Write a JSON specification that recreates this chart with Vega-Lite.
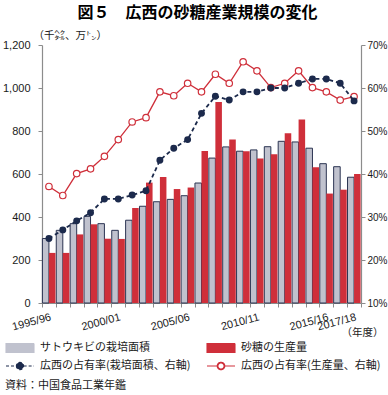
{
  "$schema": "https://vega.github.io/schema/vega-lite/v6.json",
  "width": 319,
  "height": 258,
  "autosize": {"type": "none"},
  "padding": {"left": 42, "top": 45, "right": 27, "bottom": 92},
  "background": "white",
  "config": {
    "view": {"stroke": null},
    "axis": {
      "grid": false,
      "domainColor": "#8c8c8c",
      "domainWidth": 1.2,
      "tickColor": "#8c8c8c",
      "labelColor": "#1a1a1a",
      "labelFont": "Liberation Sans",
      "labelFontSize": 11,
      "titleColor": "#1a1a1a",
      "titleFont": "Noto Sans CJK JP",
      "titleFontWeight": "normal",
      "titleFontSize": 10.5
    }
  },
  "title": {
    "text": "図５　広西の砂糖産業規模の変化",
    "font": "Noto Sans CJK JP",
    "fontSize": 16,
    "fontWeight": "bold",
    "color": "#000000",
    "anchor": "middle",
    "offset": 9,
    "dx": -4
  },
  "datasets": {
    "amount": [
      {"year": "1995/96", "series": "サトウキビの栽培面積", "value": 300},
      {"year": "1995/96", "series": "砂糖の生産量", "value": 233},
      {"year": "1996/97", "series": "サトウキビの栽培面積", "value": 338},
      {"year": "1996/97", "series": "砂糖の生産量", "value": 233},
      {"year": "1997/98", "series": "サトウキビの栽培面積", "value": 369},
      {"year": "1997/98", "series": "砂糖の生産量", "value": 319},
      {"year": "1998/99", "series": "サトウキビの栽培面積", "value": 403},
      {"year": "1998/99", "series": "砂糖の生産量", "value": 366},
      {"year": "1999/00", "series": "サトウキビの栽培面積", "value": 369},
      {"year": "1999/00", "series": "砂糖の生産量", "value": 299},
      {"year": "2000/01", "series": "サトウキビの栽培面積", "value": 338},
      {"year": "2000/01", "series": "砂糖の生産量", "value": 298},
      {"year": "2001/02", "series": "サトウキビの栽培面積", "value": 385},
      {"year": "2001/02", "series": "砂糖の生産量", "value": 442},
      {"year": "2002/03", "series": "サトウキビの栽培面積", "value": 450},
      {"year": "2002/03", "series": "砂糖の生産量", "value": 560},
      {"year": "2003/04", "series": "サトウキビの栽培面積", "value": 471},
      {"year": "2003/04", "series": "砂糖の生産量", "value": 586},
      {"year": "2004/05", "series": "サトウキビの栽培面積", "value": 482},
      {"year": "2004/05", "series": "砂糖の生産量", "value": 530},
      {"year": "2005/06", "series": "サトウキビの栽培面積", "value": 499},
      {"year": "2005/06", "series": "砂糖の生産量", "value": 537},
      {"year": "2006/07", "series": "サトウキビの栽培面積", "value": 558},
      {"year": "2006/07", "series": "砂糖の生産量", "value": 707},
      {"year": "2007/08", "series": "サトウキビの栽培面積", "value": 674},
      {"year": "2007/08", "series": "砂糖の生産量", "value": 935},
      {"year": "2008/09", "series": "サトウキビの栽培面積", "value": 726},
      {"year": "2008/09", "series": "砂糖の生産量", "value": 760},
      {"year": "2009/10", "series": "サトウキビの栽培面積", "value": 706},
      {"year": "2009/10", "series": "砂糖の生産量", "value": 706},
      {"year": "2010/11", "series": "サトウキビの栽培面積", "value": 712},
      {"year": "2010/11", "series": "砂糖の生産量", "value": 672},
      {"year": "2011/12", "series": "サトウキビの栽培面積", "value": 727},
      {"year": "2011/12", "series": "砂糖の生産量", "value": 692},
      {"year": "2012/13", "series": "サトウキビの栽培面積", "value": 752},
      {"year": "2012/13", "series": "砂糖の生産量", "value": 789},
      {"year": "2013/14", "series": "サトウキビの栽培面積", "value": 749},
      {"year": "2013/14", "series": "砂糖の生産量", "value": 853},
      {"year": "2014/15", "series": "サトウキビの栽培面積", "value": 720},
      {"year": "2014/15", "series": "砂糖の生産量", "value": 631},
      {"year": "2015/16", "series": "サトウキビの栽培面積", "value": 648},
      {"year": "2015/16", "series": "砂糖の生産量", "value": 509},
      {"year": "2016/17", "series": "サトウキビの栽培面積", "value": 634},
      {"year": "2016/17", "series": "砂糖の生産量", "value": 527},
      {"year": "2017/18", "series": "サトウキビの栽培面積", "value": 585},
      {"year": "2017/18", "series": "砂糖の生産量", "value": 600}
    ],
    "share": [
      {"year": "1995/96", "series": "広西の占有率(栽培面積、右軸)", "value": 25.0},
      {"year": "1995/96", "series": "広西の占有率(生産量、右軸)", "value": 37.1},
      {"year": "1996/97", "series": "広西の占有率(栽培面積、右軸)", "value": 27.0},
      {"year": "1996/97", "series": "広西の占有率(生産量、右軸)", "value": 35.0},
      {"year": "1997/98", "series": "広西の占有率(栽培面積、右軸)", "value": 29.1},
      {"year": "1997/98", "series": "広西の占有率(生産量、右軸)", "value": 40.1},
      {"year": "1998/99", "series": "広西の占有率(栽培面積、右軸)", "value": 31.0},
      {"year": "1998/99", "series": "広西の占有率(生産量、右軸)", "value": 41.2},
      {"year": "1999/00", "series": "広西の占有率(栽培面積、右軸)", "value": 34.2},
      {"year": "1999/00", "series": "広西の占有率(生産量、右軸)", "value": 44.1},
      {"year": "2000/01", "series": "広西の占有率(栽培面積、右軸)", "value": 34.2},
      {"year": "2000/01", "series": "広西の占有率(生産量、右軸)", "value": 48.0},
      {"year": "2001/02", "series": "広西の占有率(栽培面積、右軸)", "value": 35.1},
      {"year": "2001/02", "series": "広西の占有率(生産量、右軸)", "value": 52.1},
      {"year": "2002/03", "series": "広西の占有率(栽培面積、右軸)", "value": 36.1},
      {"year": "2002/03", "series": "広西の占有率(生産量、右軸)", "value": 53.1},
      {"year": "2003/04", "series": "広西の占有率(栽培面積、右軸)", "value": 43.2},
      {"year": "2003/04", "series": "広西の占有率(生産量、右軸)", "value": 59.1},
      {"year": "2004/05", "series": "広西の占有率(栽培面積、右軸)", "value": 46.0},
      {"year": "2004/05", "series": "広西の占有率(生産量、右軸)", "value": 58.2},
      {"year": "2005/06", "series": "広西の占有率(栽培面積、右軸)", "value": 48.0},
      {"year": "2005/06", "series": "広西の占有率(生産量、右軸)", "value": 61.1},
      {"year": "2006/07", "series": "広西の占有率(栽培面積、右軸)", "value": 54.1},
      {"year": "2006/07", "series": "広西の占有率(生産量、右軸)", "value": 59.1},
      {"year": "2007/08", "series": "広西の占有率(栽培面積、右軸)", "value": 58.1},
      {"year": "2007/08", "series": "広西の占有率(生産量、右軸)", "value": 63.2},
      {"year": "2008/09", "series": "広西の占有率(栽培面積、右軸)", "value": 57.2},
      {"year": "2008/09", "series": "広西の占有率(生産量、右軸)", "value": 61.1},
      {"year": "2009/10", "series": "広西の占有率(栽培面積、右軸)", "value": 59.1},
      {"year": "2009/10", "series": "広西の占有率(生産量、右軸)", "value": 66.1},
      {"year": "2010/11", "series": "広西の占有率(栽培面積、右軸)", "value": 59.1},
      {"year": "2010/11", "series": "広西の占有率(生産量、右軸)", "value": 64.0},
      {"year": "2011/12", "series": "広西の占有率(栽培面積、右軸)", "value": 60.0},
      {"year": "2011/12", "series": "広西の占有率(生産量、右軸)", "value": 60.1},
      {"year": "2012/13", "series": "広西の占有率(栽培面積、右軸)", "value": 60.0},
      {"year": "2012/13", "series": "広西の占有率(生産量、右軸)", "value": 61.1},
      {"year": "2013/14", "series": "広西の占有率(栽培面積、右軸)", "value": 61.1},
      {"year": "2013/14", "series": "広西の占有率(生産量、右軸)", "value": 64.0},
      {"year": "2014/15", "series": "広西の占有率(栽培面積、右軸)", "value": 62.1},
      {"year": "2014/15", "series": "広西の占有率(生産量、右軸)", "value": 60.1},
      {"year": "2015/16", "series": "広西の占有率(栽培面積、右軸)", "value": 62.1},
      {"year": "2015/16", "series": "広西の占有率(生産量、右軸)", "value": 59.1},
      {"year": "2016/17", "series": "広西の占有率(栽培面積、右軸)", "value": 61.1},
      {"year": "2016/17", "series": "広西の占有率(生産量、右軸)", "value": 57.2},
      {"year": "2017/18", "series": "広西の占有率(栽培面積、右軸)", "value": 57.0},
      {"year": "2017/18", "series": "広西の占有率(生産量、右軸)", "value": 58.0}
    ]
  },
  "encoding": {
    "x": {
      "field": "year",
      "type": "nominal",
      "sort": null,
      "scale": {"paddingInner": 0, "paddingOuter": 0},
      "axis": {
        "title": "（年度）",
        "titleX": 299,
        "titleY": 29,
        "titleAlign": "left",
        "titleBaseline": "middle",
        "titleFontSize": 10.5,
        "labelAngle": -15,
        "labelAlign": "right",
        "labelBaseline": "top",
        "labelPadding": 4,
        "labelOverlap": false,
        "tickSize": 4,
        "tickBand": "extent",
        "labelExpr": "(datum.label === '1995/96' || datum.label === '2000/01' || datum.label === '2005/06' || datum.label === '2010/11' || datum.label === '2015/16' || datum.label === '2017/18') ? datum.label : ''"
      }
    },
    "color": {
      "field": "series",
      "type": "nominal",
      "scale": {
        "domain": ["サトウキビの栽培面積", "砂糖の生産量", "広西の占有率(栽培面積、右軸)", "広西の占有率(生産量、右軸)"],
        "range": ["#c0c2ce", "#cf2f3a", "#1c2a4c", "#cf2f3a"]
      },
      "legend": {
        "orient": "none",
        "legendX": -37,
        "legendY": 297,
        "direction": "horizontal",
        "columns": 2,
        "columnPadding": 15,
        "rowPadding": 6,
        "clipHeight": 12,
        "symbolSize": 784,
        "symbolStrokeWidth": 1.2,
        "labelFont": "Noto Sans CJK JP",
        "labelFontSize": 11,
        "labelColor": "#1a1a1a",
        "labelOffset": 5,
        "labelLimit": 300,
        "title": "資料：中国食品工業年鑑",
        "titleOrient": "bottom",
        "titleAnchor": "start",
        "titleFont": "Noto Sans CJK JP",
        "titleFontSize": 11,
        "titleFontWeight": "normal",
        "titleColor": "#1a1a1a",
        "titlePadding": 8,
        "encode": {
          "symbols": {
            "update": {
              "shape": {"signal": "(datum.value === 'サトウキビの栽培面積' || datum.value === '砂糖の生産量') ? 'M-1,-0.32H1V0.32H-1Z' : datum.value === '広西の占有率(栽培面積、右軸)' ? 'M-1,0H-0.26M0.26,0H1M-0.26,0A0.26,0.26 0 1,0 0.26,0A0.26,0.26 0 1,0 -0.26,0Z' : 'M-1,0H-0.27M0.27,0H1M-0.27,0A0.27,0.27 0 1,0 0.27,0A0.27,0.27 0 1,0 -0.27,0ZM-0.22,0A0.22,0.22 0 1,1 0.22,0A0.22,0.22 0 1,1 -0.22,0Z'"},
              "fill": {"signal": "datum.value === 'サトウキビの栽培面積' ? '#c0c2ce' : datum.value === '砂糖の生産量' ? '#cf2f3a' : datum.value === '広西の占有率(栽培面積、右軸)' ? '#1c2a4c' : '#cf2f3a'"},
              "stroke": {"signal": "datum.value === 'サトウキビの栽培面積' ? '#2b3452' : datum.value === '砂糖の生産量' ? '#cf2f3a' : datum.value === '広西の占有率(栽培面積、右軸)' ? '#1c2a4c' : '#cf2f3a'"},
              "strokeDash": {"signal": "datum.value === '広西の占有率(栽培面積、右軸)' ? [3, 2] : [1, 0]"},
              "strokeWidth": {"value": 1.1},
              "opacity": {"value": 1},
              "fillOpacity": {"value": 1}
            }
          }
        }
      }
    }
  },
  "layer": [
    {
      "data": {"name": "amount"},
      "encoding": {
        "xOffset": {
          "field": "series",
          "type": "nominal",
          "scale": {"domain": ["サトウキビの栽培面積", "砂糖の生産量"], "paddingInner": 0, "paddingOuter": 0.06}
        },
        "y": {
          "field": "value",
          "type": "quantitative",
          "scale": {"domain": [0, 1200], "nice": false},
          "axis": {
            "title": "（千㌶、万㌧）",
            "titleAngle": 0,
            "titleAlign": "left",
            "titleBaseline": "middle",
            "titleX": -9,
            "titleY": -10,
            "titleFontSize": 10.5,
            "values": [0, 200, 400, 600, 800, 1000, 1200],
            "format": ",.0f",
            "tickSize": 4,
            "labelPadding": 8
          }
        }
      },
      "layer": [
        {
          "transform": [{"filter": "datum.series === 'サトウキビの栽培面積'"}],
          "mark": {"type": "bar", "stroke": "#2b3452", "strokeWidth": 1}
        },
        {
          "transform": [{"filter": "datum.series === '砂糖の生産量'"}],
          "mark": {"type": "bar"}
        }
      ]
    },
    {
      "data": {"name": "share"},
      "encoding": {
        "y": {
          "field": "value",
          "type": "quantitative",
          "scale": {"domain": [10, 70], "nice": false, "zero": false},
          "axis": {
            "orient": "right",
            "title": null,
            "values": [10, 20, 30, 40, 50, 60, 70],
            "labelExpr": "datum.value + '%'",
            "labelFontSize": 10,
            "tickSize": 4,
            "labelPadding": 2
          }
        }
      },
      "layer": [
        {
          "transform": [{"filter": "datum.series === '広西の占有率(生産量、右軸)'"}],
          "mark": {"type": "line", "strokeWidth": 1.3}
        },
        {
          "transform": [{"filter": "datum.series === '広西の占有率(生産量、右軸)'"}],
          "mark": {"type": "point", "filled": false, "fill": "#ffffff", "opacity": 1, "size": 42, "strokeWidth": 1.2}
        },
        {
          "transform": [{"filter": "datum.series === '広西の占有率(栽培面積、右軸)'"}],
          "mark": {"type": "line", "strokeWidth": 1.8, "strokeDash": [4, 3]}
        },
        {
          "transform": [{"filter": "datum.series === '広西の占有率(栽培面積、右軸)'"}],
          "mark": {"type": "point", "filled": true, "opacity": 1, "size": 48}
        }
      ]
    }
  ],
  "resolve": {"scale": {"y": "independent"}}
}
